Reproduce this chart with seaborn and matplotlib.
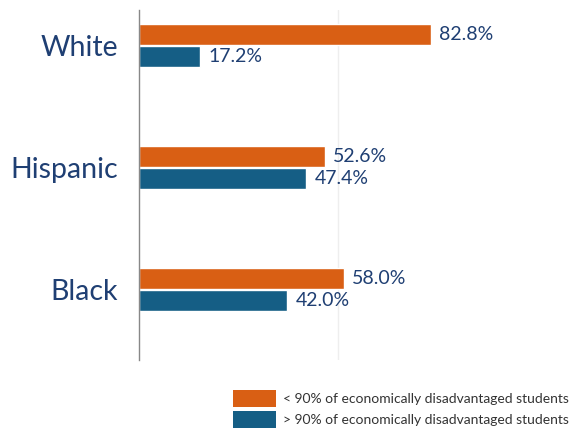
import matplotlib
matplotlib.use("Agg")
import matplotlib.pyplot as plt
import seaborn as sns
import pandas as pd
from matplotlib.patches import Patch

groups = ["White", "Hispanic", "Black"]
series = ["< 90% of economically disadvantaged students",
          "> 90% of economically disadvantaged students"]
below_90 = [82.8, 52.6, 58.0]
above_90 = [17.2, 47.4, 42.0]
colors = ["#D95F14", "#155E85"]
text_color = "#1F3F73"

df = pd.DataFrame({
    "group": groups * 2,
    "series": [series[0]] * 3 + [series[1]] * 3,
    "value": below_90 + above_90,
})

sns.set_theme(style="white")
plt.rcParams["font.family"] = ["Lato", "DejaVu Sans"]

fig = plt.figure(figsize=(5.8, 4.36), dpi=100)
ax = fig.add_axes([139 / 580, 76 / 436, 441 / 580, 350 / 436])

sns.barplot(data=df, y="group", x="value", hue="series", order=groups,
            hue_order=series, palette=colors, orient="h", width=0.36,
            gap=0.03, saturation=1, legend=False, ax=ax)

for cont in ax.containers:
    ax.bar_label(cont, labels=[f"{v:.1f}%" for v in cont.datavalues],
                 padding=6, fontsize=14, color=text_color)

ax.set_xlim(0, 125)
ax.set_ylim(2.58, -0.29)
ax.axvline(56.4, color="#EEEEEE", lw=1, zorder=0)
ax.set_xticks([])
ax.set_xlabel("")
ax.set_ylabel("")
ax.tick_params(axis="y", length=0, pad=15, labelsize=20.5, labelcolor=text_color)

for side in ["top", "right", "bottom"]:
    ax.spines[side].set_visible(False)
ax.spines["left"].set_color("#888888")
ax.spines["left"].set_linewidth(1)

handles = [Patch(facecolor=c, edgecolor="none") for c in colors]
fig.legend(handles, series, loc="lower left", bbox_to_anchor=(225 / 580, 0.0),
           frameon=False, fontsize=10, labelcolor="#333333",
           handlelength=3.1, handleheight=1.5, handletextpad=0.5,
           labelspacing=0.3, borderaxespad=0.2)

fig.savefig("out.png", dpi=100)
